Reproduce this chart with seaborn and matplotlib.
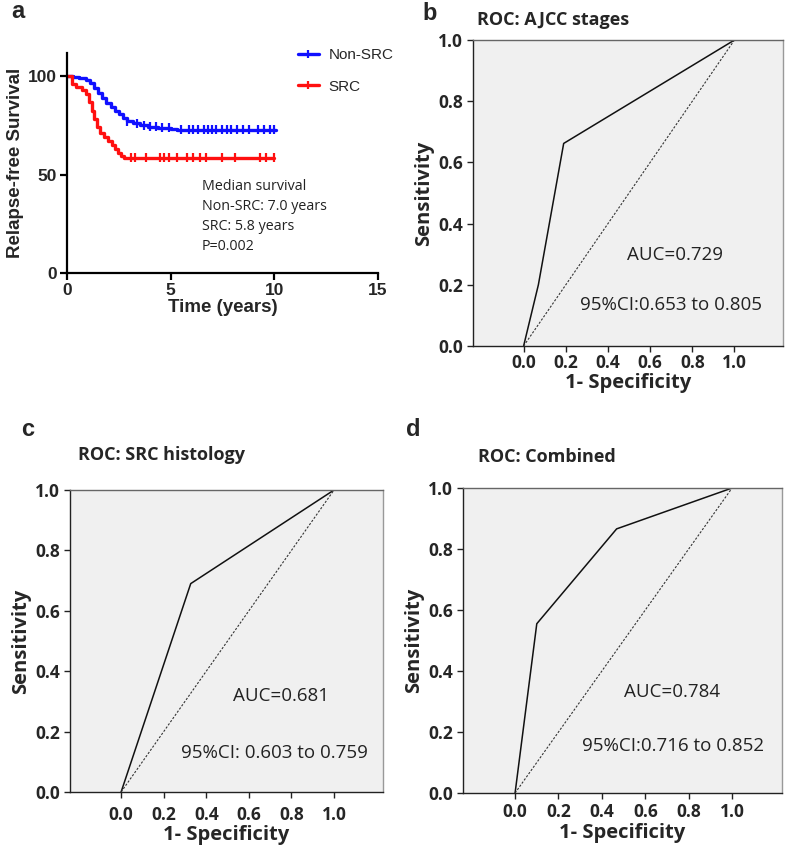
import numpy as np
import pandas as pd
import matplotlib
matplotlib.use("Agg")
import matplotlib.pyplot as plt
import seaborn as sns
from matplotlib.lines import Line2D

# ---------------- data ----------------
# Panel a: Kaplan-Meier relapse-free survival (step points)
nonsrc_t = [0, 0.3, 0.6, 0.9, 1.1, 1.3, 1.5, 1.7, 1.9, 2.1, 2.3, 2.5, 2.7, 2.9, 3.2, 3.5, 3.9, 4.4, 5.0, 5.3, 10.1]
nonsrc_s = [100, 99.6, 99, 98, 96.5, 94, 91.5, 89, 86.5, 84.5, 82.5, 80.5, 78.5, 77, 76, 75, 74.3, 73.8, 73.3, 72.8, 72.8]
src_t = [0, 0.25, 0.45, 0.7, 0.9, 1.05, 1.2, 1.3, 1.45, 1.6, 1.8, 2.0, 2.15, 2.3, 2.45, 2.6, 2.75, 10.0]
src_s = [100, 96, 94.5, 93, 91, 87, 82.5, 78, 74, 71, 69, 67, 65, 63, 61, 59.5, 58.5, 58.5]
nonsrc_censor = [2.9, 3.4, 3.7, 4.0, 4.3, 4.6, 4.9, 5.5, 5.9, 6.1, 6.3, 6.6, 6.8, 7.0, 7.2, 7.5,
                 7.7, 7.9, 8.2, 8.5, 8.8, 9.2, 9.5, 9.8, 10.0]
src_censor = [3.1, 3.3, 3.8, 4.5, 4.7, 4.9, 5.3, 5.8, 6.1, 6.4, 6.7, 7.5, 8.1, 9.3, 9.6, 10.0]
km_groups = ["Non-SRC", "SRC"]
km_xticks = [0, 5, 10, 15]
km_yticks = [0, 50, 100]
km_note = ["Median survival", "Non-SRC: 7.0 years", "SRC: 5.8 years", "P=0.002"]

# Panels b-d: ROC curves
roc_b_fpr = [0.0, 0.07, 0.19, 1.0]
roc_b_tpr = [0.0, 0.20, 0.662, 1.0]
roc_c_fpr = [0.0, 0.327, 1.0]
roc_c_tpr = [0.0, 0.69, 1.0]
roc_d_fpr = [0.0, 0.10, 0.468, 1.0]
roc_d_tpr = [0.0, 0.555, 0.866, 1.0]
roc_titles = ["ROC: AJCC stages", "ROC: SRC histology", "ROC: Combined"]
roc_auc = ["AUC=0.729", "AUC=0.681", "AUC=0.784"]
roc_ci = ["95%CI:0.653 to 0.805", "95%CI: 0.603 to 0.759", "95%CI:0.716 to 0.852"]
roc_ticks = [0.0, 0.2, 0.4, 0.6, 0.8, 1.0]
roc_ticklabels = ["0.0", "0.2", "0.4", "0.6", "0.8", "1.0"]

# ---------------- style ----------------
sns.set_theme(style="ticks")
plt.rcParams["font.family"] = ["Open Sans", "DejaVu Sans"]

W, H = 787, 848
fig = plt.figure(figsize=(W / 100, H / 100), dpi=100)


def rect(l, t, r, b):
    return [l / W, 1 - b / H, (r - l) / W, (b - t) / H]


# ---------------- panel a ----------------
ax = fig.add_axes(rect(67, 53, 378, 273))
arial = ["Liberation Sans", "DejaVu Sans"]
km_df = pd.concat([
    pd.DataFrame({"t": nonsrc_t, "s": nonsrc_s, "g": km_groups[0]}),
    pd.DataFrame({"t": src_t, "s": src_s, "g": km_groups[1]}),
])
pal = {"Non-SRC": "#1010ff", "SRC": "#ff1010"}
sns.lineplot(data=km_df, x="t", y="s", hue="g", palette=pal, drawstyle="steps-post",
             linewidth=2.4, ax=ax, legend=False, estimator=None, sort=False)


def step_val(ts, ss, x):
    i = np.searchsorted(ts, x, side="right") - 1
    return np.asarray(ss)[i]


cens_df = pd.concat([
    pd.DataFrame({"t": nonsrc_censor, "s": step_val(nonsrc_t, nonsrc_s, nonsrc_censor), "g": "Non-SRC"}),
    pd.DataFrame({"t": src_censor, "s": step_val(src_t, src_s, src_censor), "g": "SRC"}),
])
sns.scatterplot(data=cens_df, x="t", y="s", hue="g", palette=pal, marker="|", s=40,
                linewidth=1.6, ax=ax, legend=False)

ax.set_xlim(0, 15)
ax.set_ylim(0, 111.7)
ax.set_xticks(km_xticks)
ax.set_yticks(km_yticks)
ax.set_xticklabels([str(v) for v in km_xticks], fontfamily=arial, fontweight="bold", fontsize=12.5)
ax.set_yticklabels([str(v) for v in km_yticks], fontfamily=arial, fontweight="bold", fontsize=12.5)
for s in ["top", "right"]:
    ax.spines[s].set_visible(False)
for s in ["left", "bottom"]:
    ax.spines[s].set_linewidth(1.6)
    ax.spines[s].set_color("black")
ax.tick_params(axis="both", length=5, width=1.6, color="black", pad=2)
ax.set_facecolor("white")
ax.set_xlabel("Time (years)", fontfamily=arial, fontweight="bold", fontsize=13.5, labelpad=1)
ax.set_ylabel("Relapse-free Survival", fontfamily=arial, fontweight="bold", fontsize=13.5, labelpad=3)
for i, line in enumerate(km_note):
    ax.text(6.5, 44.0 - i * 10.2, line, fontsize=10.3, color="#222222", va="center", ha="left")

handles = [Line2D([0], [0], color=pal[g], lw=2.4, marker="|", markersize=6, markeredgewidth=1.6)
           for g in km_groups]
fig.legend(handles, km_groups, loc="upper left", bbox_to_anchor=(298 / W, 1 - 48 / H),
           frameon=False, prop={"family": arial, "size": 11}, handlelength=1.35,
           labelspacing=1.15, handletextpad=0.65, borderaxespad=0, borderpad=0)

# ---------------- ROC panels ----------------
roc_boxes = [(473, 40, 783, 346), (70, 490, 383, 792), (463, 488, 782, 793)]
roc_data = [(roc_b_fpr, roc_b_tpr), (roc_c_fpr, roc_c_tpr), (roc_d_fpr, roc_d_tpr)]
auc_pos = [(0.717, 0.297), (0.75, 0.318), (0.723, 0.331)]
ci_pos = [(0.70, 0.134), (0.72, 0.129), (0.73, 0.154)]
title_pos = [(477, 20), (78, 455), (478, 457)]
xpads = [2, 6, 3]
xlabelpads = [0.5, 1, 1.5]

for k in range(3):
    l, t, r, b = roc_boxes[k]
    ax = fig.add_axes(rect(l, t, r, b))
    ax.set_facecolor("#f0f0f0")
    fpr, tpr = roc_data[k]
    df = pd.DataFrame({"fpr": fpr, "tpr": tpr})
    sns.lineplot(data=df, x="fpr", y="tpr", color="#111111", linewidth=1.1, ax=ax,
                 estimator=None, sort=False)
    diag = pd.DataFrame({"x": [0.0, 1.0], "y": [0.0, 1.0]})
    sns.lineplot(data=diag, x="x", y="y", color="#333333", linewidth=0.8, linestyle=(0, (2, 1.5)),
                 ax=ax, estimator=None)
    ax.set_xlim(-0.24, 1.23)
    ax.set_ylim(0, 1)
    ax.set_xticks(roc_ticks)
    ax.set_yticks(roc_ticks)
    ax.set_xticklabels(roc_ticklabels, fontweight="bold", fontsize=12.5)
    ax.set_yticklabels(roc_ticklabels, fontweight="bold", fontsize=12.5)
    ax.tick_params(axis="both", length=4, width=1.0, color="#222222", pad=3)
    ax.tick_params(axis="x", pad=xpads[k])
    ax.spines["left"].set_color("#222222")
    ax.spines["bottom"].set_color("#222222")
    ax.spines["top"].set_color("#666666")
    ax.spines["right"].set_color("#999999")
    for s in ax.spines.values():
        s.set_linewidth(1.0)
    ax.set_xlabel("1- Specificity", fontweight="bold", fontsize=14.5, labelpad=xlabelpads[k])
    ax.set_ylabel("Sensitivity", fontweight="bold", fontsize=14.5, labelpad=3)
    ax.text(*auc_pos[k], roc_auc[k], transform=ax.transData, fontsize=13.5, color="#222222",
            ha="center", va="center")
    ax.text(*ci_pos[k], roc_ci[k], transform=ax.transData, fontsize=13.5, color="#222222",
            ha="center", va="center")
    tx, ty = title_pos[k]
    fig.text(tx / W, 1 - ty / H, roc_titles[k], fontweight="bold", fontsize=13,
             ha="left", va="center")

# panel letters
for letter, (px, py) in zip("abcd", [(18, 12), (430, 14), (28, 430), (413, 429)]):
    fig.text(px / W, 1 - py / H, letter, fontweight="bold", fontsize=17, ha="center", va="center",
             family=arial)

fig.savefig("out.png", dpi=100)
